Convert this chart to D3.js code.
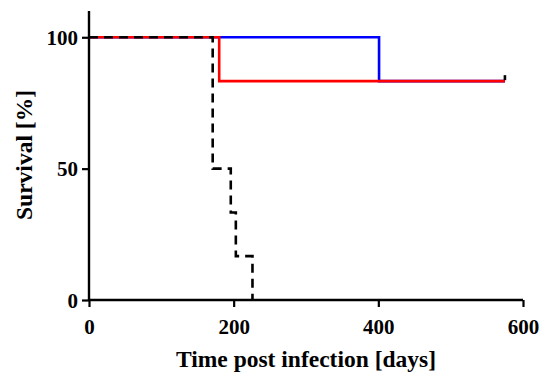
<!DOCTYPE html>
<html><head><meta charset="utf-8">
<script src="https://cdn.jsdelivr.net/npm/d3@7"></script>
<style>body{margin:0;background:#fff}svg{display:block}
svg text{font-family:"Liberation Serif","Times New Roman",serif !important;font-weight:bold;fill:#000}
</style>
</head><body>
<svg id="c" width="550" height="377"></svg>
<script>
// Kaplan-Meier step data [time, survival %]
const blueSeries = [[0,100],[401,100],[401,83.3],[575,83.3]];
const redSeries = [[0,100],[180,100],[180,83.3],[575,83.3]];
const blackSeries = [[0,100],[171,100],[171,50],[196,50],[196,33.3],[203,33.3],[203,16.7],[226,16.7],[226,0]];
const censorBlack = [[575,83.3]];
const xTicks = [0,200,400,600];
const yTicks = [0,50,100];
const xTitle = "Time post infection [days]";
const yTitle = "Survival [%]";

const svg = d3.select("#c");
const x = d3.scaleLinear().domain([0,600]).range([89,523]);
const y = d3.scaleLinear().domain([0,110]).range([300,11]);

const line = d3.line().x(d=>x(d[0])).y(d=>y(d[1]));
svg.append("path").datum(blueSeries).attr("d",line).attr("fill","none").attr("stroke","#0000ff").attr("stroke-width",2.6);
svg.append("path").datum(redSeries).attr("d",line).attr("fill","none").attr("stroke","#ff0000").attr("stroke-width",2.6);
svg.append("path").datum(blackSeries).attr("d",line).attr("fill","none").attr("stroke","#000").attr("stroke-width",2.6).attr("stroke-dasharray","9,6");
svg.selectAll(".cens").data(censorBlack).enter().append("line")
  .attr("x1",d=>x(d[0])).attr("x2",d=>x(d[0])).attr("y1",d=>y(d[1])-6).attr("y2",d=>y(d[1])-1)
  .attr("stroke","#000").attr("stroke-width",2.6);

const xa = svg.append("g").attr("transform","translate(0,300)")
  .call(d3.axisBottom(x).tickValues(xTicks).tickSize(7).tickPadding(13).tickFormat(d3.format("d")));
const ya = svg.append("g").attr("transform","translate(89,0)")
  .call(d3.axisLeft(y).tickValues(yTicks).tickSize(7).tickPadding(4).tickFormat(d3.format("d")));
xa.select(".domain").remove(); ya.select(".domain").remove();
xa.attr("font-family",null); ya.attr("font-family",null);
svg.append("line").attr("x1",x(0)).attr("x2",x(600)).attr("y1",300).attr("y2",300).attr("stroke","#000").attr("stroke-width",2.4);
svg.append("line").attr("x1",89).attr("x2",89).attr("y1",y(110)).attr("y2",301).attr("stroke","#000").attr("stroke-width",2.4);
[xa,ya].forEach(g=>{
  g.selectAll("line").attr("stroke","#000").attr("stroke-width",2.2);
  g.selectAll("text").style("font-size","21px");
});
xa.selectAll("text").attr("dy","0.68em");
ya.selectAll("text").attr("dy","0.34em");

svg.append("text").attr("x",306).attr("y",367).attr("text-anchor","middle")
  .style("font-size","23.5px").text(xTitle);
svg.append("text").attr("transform","translate(32,155) rotate(-90)").attr("text-anchor","middle")
  .style("font-size","23.5px").text(yTitle);
</script>
</body></html>
